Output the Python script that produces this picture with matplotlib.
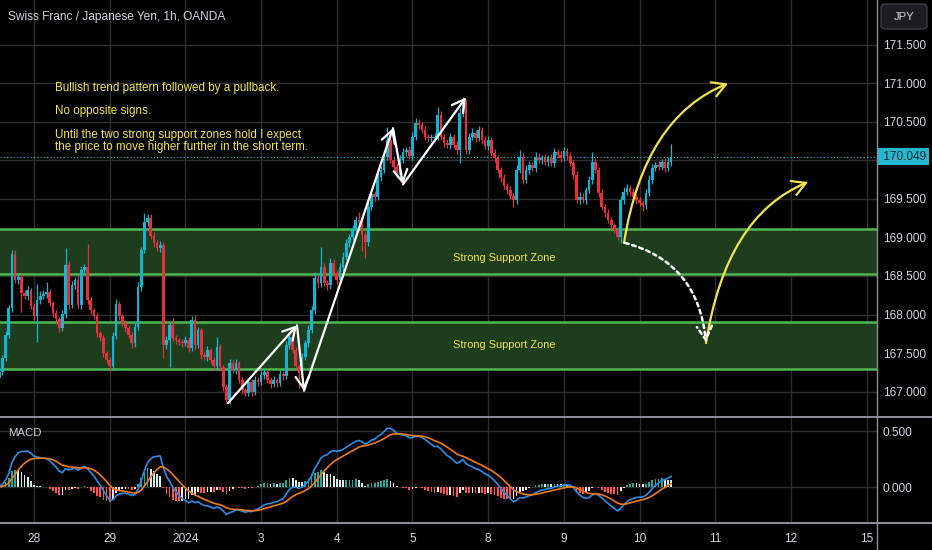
import numpy as np
import pandas as pd
import matplotlib
matplotlib.use('Agg')
import matplotlib.pyplot as plt
from matplotlib.path import Path
from matplotlib.patches import FancyArrowPatch, FancyBboxPatch
from matplotlib.lines import Line2D
import matplotlib.transforms as mtransforms

plt.rcParams['font.family'] = ['Liberation Sans', 'DejaVu Sans']

# ---------------- data ----------------
title = "Swiss Franc / Japanese Yen, 1h, OANDA"
day_labels = ['28', '29', '2024', '3', '4', '5', '8', '9', '10', '11', '12', '15']
price_ticks = [167.0, 167.5, 168.0, 168.5, 169.0, 169.5, 170.0, 170.5, 171.0, 171.5]
macd_ticks = [0.0, 0.5]
first_open = 167.22
closes = [
    167.18, 167.25, 167.44, 167.73, 168.08, 168.79, 168.45, 168.49, 168.28, 168.24,
    168.32, 168.11, 167.98, 168.19, 168.24, 168.27, 168.29, 168.15, 168.02, 167.94,
    167.82, 168.01, 168.64, 168.12, 168.38, 168.45, 168.12, 168.58, 168.62, 168.19,
    168.06, 167.98, 167.76, 167.69, 167.50, 167.41, 167.33, 167.72, 168.14, 167.98,
    167.89, 167.82, 167.73, 167.63, 167.84, 168.36, 168.84, 169.20, 169.25, 169.02,
    168.93, 168.86, 168.90, 167.60, 167.67, 167.86, 167.69, 167.67, 167.64, 167.63,
    167.67, 167.56, 167.93, 167.60, 167.80, 167.47, 167.45, 167.54, 167.41, 167.33,
    167.58, 167.32, 167.06, 166.89, 167.37, 167.28, 167.37, 167.15, 167.02, 166.98,
    167.12, 166.99, 167.15, 167.12, 167.21, 167.25, 167.15, 167.10, 167.15, 167.11,
    167.23, 167.20, 167.60, 167.71, 167.54, 167.33, 167.24, 167.45, 167.63, 167.80,
    168.06, 168.47, 168.41, 168.62, 168.41, 168.38, 168.67, 168.54, 168.45, 168.62,
    168.75, 168.93, 169.01, 169.10, 169.23, 169.19, 169.03, 168.94, 169.40, 169.56,
    169.53, 169.79, 169.88, 170.05, 170.27, 170.01, 169.92, 169.81, 170.01, 170.11,
    170.14, 170.06, 170.31, 170.49, 170.46, 170.40, 170.31, 170.29, 170.29, 170.31,
    170.59, 170.31, 170.23, 170.20, 170.31, 170.20, 170.14, 170.62, 170.75, 170.14,
    170.31, 170.36, 170.29, 170.40, 170.27, 170.19, 170.27, 170.10, 170.03, 169.88,
    169.77, 169.67, 169.62, 169.54, 169.49, 169.88, 170.05, 169.75, 169.88, 169.94,
    169.90, 170.05, 170.01, 170.03, 169.98, 170.03, 169.97, 170.11, 170.07, 170.03,
    170.12, 170.06, 169.97, 169.81, 169.49, 169.53, 169.49, 169.62, 169.75, 169.98,
    169.88, 169.58, 169.40, 169.32, 169.23, 169.16, 169.10, 169.01, 169.49, 169.59,
    169.64, 169.59, 169.53, 169.49, 169.45, 169.42, 169.58, 169.75, 169.90, 169.94,
    169.92, 169.98, 169.90, 169.98, 170.049,
]
wick_up = [
    0.05, 0.04, 0.03, 0.05, 0.04, 0.05, 0.05, 0.04, 0.03, 0.04,
    0.05, 0.03, 0.04, 0.20, 0.06, 0.05, 0.13, 0.04, 0.03, 0.04,
    0.03, 0.05, 0.23, 0.06, 0.05, 0.04, 0.06, 0.05, 0.04, 0.29,
    0.04, 0.03, 0.04, 0.03, 0.05, 0.03, 0.04, 0.05, 0.06, 0.04,
    0.03, 0.04, 0.03, 0.04, 0.05, 0.06, 0.04, 0.12, 0.06, 0.05,
    0.05, 0.04, 0.05, 0.04, 0.05, 0.04, 0.10, 0.04, 0.03, 0.04,
    0.05, 0.04, 0.05, 0.06, 0.04, 0.03, 0.04, 0.05, 0.03, 0.04,
    0.13, 0.04, 0.03, 0.04, 0.05, 0.04, 0.05, 0.03, 0.04, 0.03,
    0.05, 0.04, 0.05, 0.04, 0.05, 0.04, 0.03, 0.04, 0.05, 0.03,
    0.05, 0.04, 0.06, 0.05, 0.13, 0.04, 0.03, 0.05, 0.04, 0.06,
    0.05, 0.08, 0.04, 0.26, 0.05, 0.04, 0.07, 0.05, 0.04, 0.05,
    0.06, 0.05, 0.04, 0.06, 0.05, 0.10, 0.05, 0.04, 0.06, 0.05,
    0.04, 0.06, 0.05, 0.05, 0.16, 0.06, 0.04, 0.05, 0.06, 0.05,
    0.04, 0.05, 0.06, 0.06, 0.05, 0.04, 0.05, 0.04, 0.05, 0.05,
    0.10, 0.05, 0.04, 0.05, 0.05, 0.04, 0.05, 0.06, 0.08, 0.05,
    0.05, 0.06, 0.04, 0.05, 0.04, 0.05, 0.05, 0.04, 0.05, 0.04,
    0.04, 0.05, 0.04, 0.05, 0.04, 0.06, 0.08, 0.05, 0.06, 0.05,
    0.04, 0.06, 0.05, 0.04, 0.05, 0.04, 0.05, 0.05, 0.04, 0.05,
    0.05, 0.04, 0.05, 0.04, 0.05, 0.06, 0.05, 0.04, 0.05, 0.13,
    0.05, 0.04, 0.05, 0.04, 0.05, 0.04, 0.03, 0.04, 0.05, 0.06,
    0.05, 0.04, 0.05, 0.04, 0.03, 0.04, 0.05, 0.06, 0.05, 0.04,
    0.05, 0.04, 0.05, 0.06, 0.16,
]
wick_dn = [
    0.05, 0.06, 0.04, 0.05, 0.04, 0.05, 0.04, 0.05, 0.25, 0.04,
    0.05, 0.04, 0.05, 0.34, 0.05, 0.04, 0.05, 0.04, 0.05, 0.06,
    0.05, 0.04, 0.05, 0.05, 0.04, 0.05, 0.04, 0.05, 0.04, 0.06,
    0.05, 0.04, 0.05, 0.04, 0.05, 0.04, 0.06, 0.05, 0.04, 0.05,
    0.04, 0.05, 0.04, 0.06, 0.05, 0.04, 0.05, 0.04, 0.05, 0.04,
    0.05, 0.04, 0.05, 0.16, 0.05, 0.35, 0.04, 0.05, 0.04, 0.05,
    0.04, 0.05, 0.04, 0.05, 0.04, 0.05, 0.04, 0.05, 0.04, 0.05,
    0.04, 0.05, 0.05, 0.04, 0.05, 0.04, 0.05, 0.04, 0.05, 0.04,
    0.04, 0.05, 0.04, 0.05, 0.04, 0.05, 0.04, 0.05, 0.04, 0.05,
    0.04, 0.05, 0.04, 0.05, 0.04, 0.05, 0.20, 0.05, 0.04, 0.05,
    0.04, 0.05, 0.06, 0.05, 0.04, 0.06, 0.05, 0.04, 0.05, 0.04,
    0.05, 0.04, 0.05, 0.04, 0.05, 0.04, 0.20, 0.20, 0.05, 0.04,
    0.05, 0.04, 0.05, 0.04, 0.05, 0.04, 0.05, 0.04, 0.05, 0.04,
    0.05, 0.04, 0.05, 0.04, 0.05, 0.04, 0.05, 0.04, 0.05, 0.04,
    0.05, 0.04, 0.05, 0.04, 0.05, 0.04, 0.05, 0.17, 0.05, 0.06,
    0.05, 0.04, 0.05, 0.04, 0.05, 0.04, 0.05, 0.04, 0.05, 0.04,
    0.05, 0.04, 0.05, 0.04, 0.09, 0.05, 0.04, 0.05, 0.04, 0.05,
    0.04, 0.05, 0.04, 0.05, 0.04, 0.05, 0.04, 0.05, 0.04, 0.05,
    0.04, 0.05, 0.04, 0.05, 0.04, 0.05, 0.04, 0.05, 0.04, 0.05,
    0.04, 0.05, 0.04, 0.05, 0.04, 0.05, 0.04, 0.04, 0.08, 0.05,
    0.04, 0.05, 0.04, 0.05, 0.04, 0.07, 0.05, 0.04, 0.05, 0.04,
    0.05, 0.04, 0.05, 0.04, 0.05,
]
bars_before_first_day = 12
zone_tops = [169.11, 167.90]
zone_bottoms = [168.53, 167.29]
zone_label_days = [6.21, 6.21]
zone_label_prices = [168.73, 167.60]
zone_label = "Strong Support Zone"
last_price = 170.049
notes = ["Bullish trend pattern followed by a pullback.",
         "No opposite signs.",
         "Until the two strong support zones hold I expect\nthe price to move higher further in the short term."]
zigzag_days = [2.563, 3.474, 3.567, 4.742, 4.875, 5.707]
zigzag_prices = [166.85, 167.86, 167.01, 170.42, 169.69, 170.82]
arc_up1 = [(7.794, 168.93), (8.058, 170.56), (9.168, 171.00)]
arc_up2 = [(8.877, 167.63), (9.141, 169.28), (10.225, 169.72)]
arc_down = [(7.807, 168.93), (8.771, 168.68), (8.877, 167.64)]

# ---------------- derived ----------------
closes = np.array(closes)
n = len(closes)
opens = np.concatenate([[first_open], closes[:-1]])
highs = np.maximum(opens, closes) + np.array(wick_up)
lows = np.minimum(opens, closes) - np.array(wick_dn)
x = (np.arange(n) - bars_before_first_day) / 24.0

s = pd.Series(closes)
ema12 = s.ewm(span=12, adjust=False).mean()
ema26 = s.ewm(span=26, adjust=False).mean()
macd = (ema12 - ema26).values
signal = pd.Series(macd).ewm(span=9, adjust=False).mean().values
hist = macd - signal

# ---------------- figure ----------------
W, H = 932, 550
BG = '#000000'
GRID = '#2e2e2e'
TXT = '#d1d4dc'
UP = '#12b6d2'
DN = '#e3323e'
YEL = '#f2e44a'

fig = plt.figure(figsize=(W / 100, H / 100), dpi=100, facecolor=BG)
ax1 = fig.add_axes([0, 1 - 417 / H, 877 / W, 417 / H])
ax2 = fig.add_axes([0, 1 - 523 / H, 877 / W, 106 / H])

xmin, xmax = -34 / 75.7, 843 / 75.7
for ax in (ax1, ax2):
    ax.set_facecolor(BG)
    ax.set_xlim(xmin, xmax)
    for sp in ax.spines.values():
        sp.set_visible(False)
    ax.set_xticks(range(len(day_labels)))
    ax.grid(True, color=GRID, lw=1.0)
    ax.set_axisbelow(True)
    ax.yaxis.tick_right()
    ax.tick_params(axis='both', length=0, colors=TXT, labelsize=8.6)

ax1.set_ylim(166.669, 172.084)
ax1.set_yticks(price_ticks)
ax1.set_yticklabels(['' if abs(p - 170.0) < 1e-9 else f'{p:.3f}' for p in price_ticks])
ax1.tick_params(axis='y', pad=4)
ax1.set_xticklabels([])

# support zones
for top, bot in zip(zone_tops, zone_bottoms):
    ax1.axhspan(bot, top, color='#1d3d1d', lw=0, zorder=1)
    ax1.axhline(top, color='#4fb84f', lw=1.8, zorder=2)
    ax1.axhline(bot, color='#4fb84f', lw=1.8, zorder=2)
for d, p in zip(zone_label_days, zone_label_prices):
    ax1.text(d, p, zone_label, color=YEL, fontsize=7.9, ha='center', va='center', zorder=3)

# candles
cols = np.where(closes >= opens, UP, DN)
ax1.vlines(x, lows, highs, colors=cols, lw=0.9, zorder=4)
body = np.maximum(np.abs(closes - opens), 0.01)
ax1.bar(x, body, bottom=np.minimum(opens, closes), width=0.85 / 24, color=cols, lw=0, zorder=5)

# last price line & label
ax1.axhline(last_price, color='#26c6da', lw=0.8, ls=(0, (1, 2)), zorder=3)
trans = mtransforms.blended_transform_factory(ax1.transAxes, ax1.transData)
ax1.text(1.003, last_price, f' {last_price:.3f}', transform=trans, ha='left', va='center',
         color='#0b2530', fontsize=8.6, clip_on=False,
         bbox=dict(boxstyle='square,pad=0.22', fc='#22b8cf', ec='none'))

# white zigzag arrows
for i in range(len(zigzag_days) - 1):
    arr = FancyArrowPatch((zigzag_days[i], zigzag_prices[i]), (zigzag_days[i + 1], zigzag_prices[i + 1]),
                          arrowstyle='->,head_length=0.8,head_width=0.45', mutation_scale=11,
                          color='white', lw=1.6, shrinkA=0, shrinkB=0, zorder=7)
    ax1.add_patch(arr)

# curved projection arrows
def curve(pts):
    return Path(pts, [Path.MOVETO, Path.CURVE3, Path.CURVE3])

for pts in (arc_up1, arc_up2):
    a = FancyArrowPatch(path=curve(pts), arrowstyle='->,head_length=0.8,head_width=0.45',
                        mutation_scale=12, color=YEL, lw=1.6, zorder=7)
    ax1.add_patch(a)
a = FancyArrowPatch(path=curve(arc_down), arrowstyle='->,head_length=0.8,head_width=0.45',
                    mutation_scale=12, color='white', lw=1.8, ls=(0, (1.5, 1.5)), zorder=7)
ax1.add_patch(a)

# MACD pane
ax2.set_ylim(-0.321, 0.625)
ax2.set_yticks(macd_ticks)
ax2.set_yticklabels([f'{v:.3f}' for v in macd_ticks])
ax2.tick_params(axis='y', pad=4)
ax2.set_xticklabels(day_labels)
ax2.tick_params(axis='x', pad=7)
hcols = []
for i, h in enumerate(hist):
    prev = hist[i - 1] if i > 0 else 0.0
    if h >= 0:
        hcols.append('#26a69a' if h > prev else '#d6efec')
    else:
        hcols.append('#ff5252' if h < prev else '#ffe0e3')
ax2.bar(x, hist, width=0.55 / 24, color=hcols, lw=0, zorder=3)
ax2.plot(x, macd, color='#2a8ee8', lw=1.2, zorder=4)
ax2.plot(x, signal, color='#f07a1a', lw=1.2, zorder=4)

# separators
fig.add_artist(Line2D([0, 1], [1 - 417 / H] * 2, transform=fig.transFigure, color='#8c8f98', lw=1.4))
fig.add_artist(Line2D([0, 1], [1 - 523 / H] * 2, transform=fig.transFigure, color='#8c8f98', lw=1.4))
fig.add_artist(Line2D([877 / W] * 2, [0, 1], transform=fig.transFigure, color='#8c8f98', lw=1.0))

# texts
def fx(px):
    return px / W

def fy(py):
    return 1 - py / H

fig.text(fx(8), fy(17), title, color=TXT, fontsize=8.6, ha='left', va='center')
fig.text(fx(55), fy(88), notes[0], color=YEL, fontsize=8.4, ha='left', va='center')
fig.text(fx(55), fy(111), notes[1], color=YEL, fontsize=8.4, ha='left', va='center')
fig.text(fx(55), fy(141), notes[2], color=YEL, fontsize=8.4, ha='left', va='center', linespacing=1.0)
fig.text(fx(8), fy(433), 'MACD', color=TXT, fontsize=8.2, ha='left', va='center')

box = FancyBboxPatch((fx(881), fy(29)), fx(46), 25 / H, boxstyle='round,pad=0,rounding_size=0.006',
                     transform=fig.transFigure, fc='#1c1d21', ec='#3b3d44', lw=1.0)
fig.add_artist(box)
fig.text(fx(904), fy(17), 'JPY', color=TXT, fontsize=8.2, ha='center', va='center')

fig.savefig('out.png', dpi=100, facecolor=BG)
